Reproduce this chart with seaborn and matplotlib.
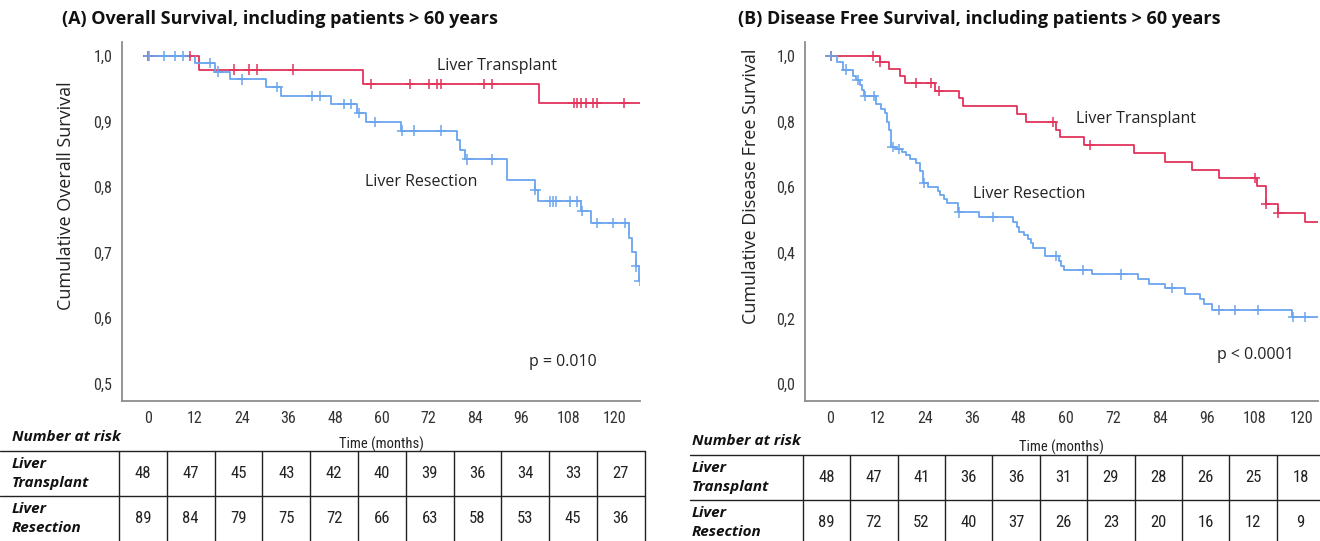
import numpy as np
import pandas as pd
import matplotlib
matplotlib.use("Agg")
import matplotlib.pyplot as plt
from matplotlib import font_manager as fm
import seaborn as sns

# ---------------- data ----------------
tick_months = [0, 12, 24, 36, 48, 60, 72, 84, 96, 108, 120]
groups = ["Liver Transplant", "Liver Resection"]

# (A) Overall survival
os_lt_t = [0, 12.9, 55.3, 100.5, 126.5]
os_lt_s = [1.0, 0.979, 0.957, 0.928, 0.928]
os_lt_c = [0.0, 10.7, 22.1, 26.0, 28.0, 37.2, 57.3, 67.3, 72.3, 74.3, 75.2, 86.3, 88.5,
           109.4, 110.3, 111.4, 112.5, 114.5, 115.5, 122.5]
os_lr_t = [0, 11.9, 17.1, 20.9, 30.2, 34.0, 47.1, 53.7, 56.0, 65.1, 79.3, 80.2, 81.5, 92.4,
           99.4, 100.2, 111.4, 113.8, 123.6, 124.4, 125.4, 126.3, 126.5]
os_lr_s = [1.0, 0.989, 0.976, 0.964, 0.952, 0.939, 0.926, 0.913, 0.899, 0.886, 0.871, 0.856,
           0.842, 0.811, 0.796, 0.778, 0.763, 0.745, 0.722, 0.701, 0.679, 0.657, 0.657]
os_lr_c = [0.2, 3.9, 6.9, 9.0, 15.9, 17.9, 24.0, 33.2, 42.2, 44.2, 50.2, 52.2, 54.2, 58.2,
           65.3, 68.4, 75.3, 82.1, 88.5, 99.6, 103.3, 104.2, 105.0, 108.5, 110.3, 111.5,
           115.5, 119.5, 122.7, 125.5, 126.4]

# (B) Disease free survival
dfs_lt_t = [0, 12.6, 14.8, 17.7, 18.9, 26.6, 32.8, 33.8, 47.5, 49.8, 57.4, 58.4, 64.5, 77.4,
            85.2, 92.2, 99.0, 108.7, 110.9, 114.0, 120.8, 124.2]
dfs_lt_s = [1.0, 0.983, 0.962, 0.939, 0.917, 0.893, 0.871, 0.848, 0.823, 0.800, 0.776, 0.752,
            0.728, 0.703, 0.678, 0.652, 0.629, 0.605, 0.548, 0.522, 0.494, 0.494]
dfs_lt_c = [0.0, 10.9, 12.7, 21.7, 25.7, 27.7, 56.6, 66.2, 108.1, 111.0, 114.1]
dfs_lr_t = [0, 1.7, 3.2, 5.8, 6.5, 7.5, 8.1, 8.5, 11.7, 12.8, 13.8, 14.4, 14.9, 15.5, 16.8,
            18.1, 19.2, 20.2, 21.7, 22.8, 23.6, 24.9, 27.4, 27.8, 28.9, 29.6, 32.5, 37.8, 46.5,
            47.4, 48.1, 49.2, 50.2, 51.2, 51.6, 54.6, 58.2, 58.8, 59.5, 66.5, 78.4, 81.2, 85.3,
            90.3, 94.1, 95.1, 97.2, 117.7, 124.2]
dfs_lr_s = [1.0, 0.983, 0.959, 0.939, 0.927, 0.912, 0.896, 0.878, 0.853, 0.840, 0.827, 0.800,
            0.774, 0.722, 0.716, 0.708, 0.698, 0.685, 0.673, 0.649, 0.612, 0.602, 0.588, 0.576,
            0.563, 0.551, 0.523, 0.510, 0.495, 0.480, 0.464, 0.454, 0.441, 0.429, 0.416, 0.390,
            0.375, 0.360, 0.348, 0.334, 0.319, 0.304, 0.292, 0.273, 0.258, 0.244, 0.226, 0.205,
            0.205]
dfs_lr_c = [0.0, 3.9, 6.9, 8.9, 11.0, 15.8, 17.4, 23.8, 32.8, 41.4, 57.4, 64.4, 74.1, 87.0,
            99.0, 103.0, 108.9, 117.9, 120.8]

# numbers at risk
risk_os_lt = [48, 47, 45, 43, 42, 40, 39, 36, 34, 33, 27]
risk_os_lr = [89, 84, 79, 75, 72, 66, 63, 58, 53, 45, 36]
risk_dfs_lt = [48, 47, 41, 36, 36, 31, 29, 28, 26, 25, 18]
risk_dfs_lr = [89, 72, 52, 40, 37, 26, 23, 20, 16, 12, 9]

# ---------------- styling ----------------
sns.set_theme(style="white")


def has_font(name):
    try:
        fm.findfont(fm.FontProperties(family=name), fallback_to_default=False)
        return True
    except Exception:
        return False


MAIN = "Open Sans" if has_font("Open Sans") else "DejaVu Sans"
NARROW = next((f for f in ["Liberation Sans Narrow", "Arial Narrow", "Roboto Condensed",
                           "Liberation Sans"] if has_font(f)), "DejaVu Sans")
plt.rcParams["font.family"] = [MAIN, "DejaVu Sans"]

RED = "#E3335C"
BLUE = "#6AA5EE"
palette = {"Liver Transplant": RED, "Liver Resection": BLUE}
SPINE = "#8c8c8c"
TXT = "#222222"

W, H = 1320, 541
fig = plt.figure(figsize=(W / 100, H / 100), dpi=100)
fig.patch.set_facecolor("white")


def px_axes(l, t, r, b):
    return fig.add_axes([l / W, 1 - b / H, (r - l) / W, (b - t) / H])


def step_value(times, surv, x):
    idx = np.searchsorted(times, x, side="right") - 1
    return np.asarray(surv)[np.clip(idx, 0, len(surv) - 1)]


def km_frames(data):
    lines, cens = [], []
    for g, (t, s, c) in data.items():
        lines.append(pd.DataFrame({"time": t, "surv": s, "group": g, "order": range(len(t))}))
        cens.append(pd.DataFrame({"time": c, "surv": step_value(t, s, np.array(c)), "group": g}))
    return pd.concat(lines), pd.concat(cens)


def draw_panel(ax, data, xlim, ylim, yticks, ylabel, ylab_xy, xlab_y, notes):
    lines, cens = km_frames(data)
    for g in groups:
        sub = lines[lines.group == g]
        sns.lineplot(data=sub, x="time", y="surv", color=palette[g], estimator=None,
                     sort=False, drawstyle="steps-post", lw=1.3, ax=ax, legend=False)
    sns.scatterplot(data=cens, x="time", y="surv", hue="group", palette=palette,
                    marker="+", s=55, linewidth=1.1, ax=ax, legend=False, zorder=3)
    ax.set_xlim(*xlim)
    ax.set_ylim(*ylim)
    ax.set_xticks(tick_months)
    ax.set_xticklabels([str(m) for m in tick_months], family=NARROW, fontsize=11.5, color="#333333")
    ax.set_yticks(yticks)
    ax.set_yticklabels([f"{v:.1f}".replace(".", ",") for v in yticks], family=NARROW,
                       fontsize=11.5, color="#333333")
    ax.tick_params(axis="both", length=0, pad=7)
    for side in ["top", "right"]:
        ax.spines[side].set_visible(False)
    for side in ["left", "bottom"]:
        ax.spines[side].set_color(SPINE)
        ax.spines[side].set_linewidth(1.3)
    ax.set_ylabel(ylabel, fontsize=13, color=TXT)
    ax.yaxis.set_label_coords(*ylab_xy)
    ax.set_xlabel("Time (months)", family=NARROW, fontsize=10.5, color=TXT)
    ax.xaxis.set_label_coords(0.5, xlab_y)
    for (x, y, s, ha) in notes:
        ax.text(x, y, s, ha=ha, va="center", fontsize=11.5, color=TXT)


def draw_table(ax, xlim, ylim, rows_risk, line_left, line_right, ncols_lines):
    ax.set_xlim(*xlim)
    ax.set_ylim(*ylim)
    ax.axis("off")
    for y in [0, 1]:
        ax.plot([line_left, line_right], [y, y], color="#222222", lw=1.0, clip_on=False)
    for k in range(ncols_lines):
        ax.plot([k - 0.5, k - 0.5], [0, 2.2], color="#222222", lw=1.0, clip_on=False)
    lab_x = xlim[0] + 0.25
    ax.text(lab_x, -0.31, "Number at risk", fontsize=11, fontweight="bold",
            fontstyle="italic", ha="left", va="center", color="#111111")
    labels = ["Liver\nTransplant", "Liver\nResection"]
    for r, (lab, vals) in enumerate(zip(labels, rows_risk)):
        ax.text(lab_x, r + 0.5, lab, fontsize=11, fontweight="bold", fontstyle="italic",
                ha="left", va="center", linespacing=1.45, color="#111111")
        for k, v in enumerate(vals):
            ax.text(k, r + 0.5, str(v), family=NARROW, fontsize=12, ha="center",
                    va="center", color="#222222")


# Panel A
axA = px_axes(122, 42, 640, 401)
draw_panel(axA,
           {"Liver Transplant": (os_lt_t, os_lt_s, os_lt_c),
            "Liver Resection": (os_lr_t, os_lr_s, os_lr_c)},
           xlim=(-6.8, 126.5), ylim=(0.474, 1.021),
           yticks=[0.5, 0.6, 0.7, 0.8, 0.9, 1.0],
           ylabel="Cumulative Overall Survival", ylab_xy=(-0.091, 0.571), xlab_y=-0.098,
           notes=[(89.7, 0.985, "Liver Transplant", "center"),
                  (70.2, 0.808, "Liver Resection", "center"),
                  (98.0, 0.534, "p = 0.010", "left")])

# Panel B
axB = px_axes(805, 42, 1318, 401)
draw_panel(axB,
           {"Liver Transplant": (dfs_lt_t, dfs_lt_s, dfs_lt_c),
            "Liver Resection": (dfs_lr_t, dfs_lr_s, dfs_lr_c)},
           xlim=(-6.5, 124.2), ylim=(-0.052, 1.043),
           yticks=[0.0, 0.2, 0.4, 0.6, 0.8, 1.0],
           ylabel="Cumulative Disease Free Survival", ylab_xy=(-0.088, 0.599), xlab_y=-0.108,
           notes=[(77.8, 0.808, "Liver Transplant", "center"),
                  (50.5, 0.579, "Liver Resection", "center"),
                  (98.5, 0.088, "p < 0.0001", "left")])

# Titles
fig.text(62 / W, 1 - 19 / H, "(A) Overall Survival, including patients > 60 years",
         fontsize=13, fontweight="bold", ha="left", va="center", color="#111111")
fig.text(738 / W, 1 - 19 / H, "(B) Disease Free Survival, including patients > 60 years",
         fontsize=13, fontweight="bold", ha="left", va="center", color="#111111")

# Tables
tA = px_axes(0, 425, 660, 541)
draw_table(tA, xlim=(-2.99, 10.82), ylim=(2, -0.578),
           rows_risk=[risk_os_lt, risk_os_lr], line_left=-2.99, line_right=10.5,
           ncols_lines=12)
tB = px_axes(680, 425, 1320, 541)
draw_table(tB, xlim=(-3.09, 10.41), ylim=(1.911, -0.667),
           rows_risk=[risk_dfs_lt, risk_dfs_lr], line_left=-2.88, line_right=10.41,
           ncols_lines=11)

fig.savefig("out.png", dpi=100, facecolor="white")
